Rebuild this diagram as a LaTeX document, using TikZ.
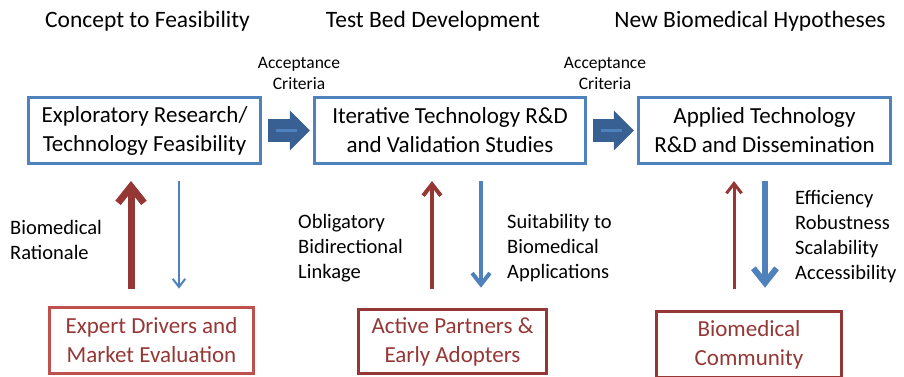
\documentclass[tikz,border=0pt]{standalone}
\usepackage{fontspec}
\setmainfont{Carlito}
\usetikzlibrary{arrows.meta}
\definecolor{techblue}{HTML}{4F81BD}
\definecolor{navyfill}{HTML}{386092}
\definecolor{darkred}{HTML}{953735}
\definecolor{lightred}{HTML}{C0504D}
\tikzset{
	techbox/.style={draw=techblue, line width=2.6pt, inner sep=0pt, minimum height=66.5pt, align=center, font=\fontsize{23}{29}\selectfont},
	userbox/.style={draw=darkred, text=darkred, line width=2.6pt, inner sep=0pt, align=center, font=\fontsize{23}{29}\selectfont},
	heading/.style={anchor=base, font=\fontsize{23.5}{28}\selectfont},
	gate/.style={align=center, font=\fontsize{17.5}{21}\selectfont},
	sidetext/.style={anchor=west, align=left, inner sep=0pt, font=\fontsize{20.5}{25}\selectfont},
	stage/.style={navyfill, line width=23pt, -{Triangle[length=20pt, width=40pt, line width=0pt]}, shorten <=6pt, shorten >=3pt},
	stripe/.style={techblue, line width=3pt},
	feed/.style={line width=#1, -{Straight Barb[length=5pt 1.6, width=7pt 2.7]}}
}
\begin{document}
\begin{tikzpicture}[x=1pt, y=-1pt]
	\useasboundingbox (0,0) rectangle (904,377);
	\node[heading] at (147.5,28) (concept) {Concept to Feasibility};
	\node[heading] at (433,28) (testbed) {Test Bed Development};
	\node[heading] at (750,28) (hypo) {New Biomedical Hypotheses};
	\node[techbox, minimum width=232.5pt] at (144.5,130.5) (explore) {Exploratory Research/\\Technology Feasibility};
	\node[techbox, minimum width=271.5pt] at (450,130.5) (iter) {Iterative Technology R\&D\\and Validation Studies};
	\node[techbox, minimum width=252.5pt] at (764.5,130.5) (applied) {Applied Technology\\R\&D and Dissemination};
	\node[gate] at (299,73.5) (accept1) {Acceptance\\Criteria};
	\node[gate] at (605,73.5) (accept2) {Acceptance\\Criteria};
	\node[userbox, draw=lightred, minimum width=204pt, minimum height=66pt] at (151.5,340.5) (expert) {Expert Drivers and\\Market Evaluation};
	\node[userbox, minimum width=188pt, minimum height=64pt] at (452.5,341.5) (partners) {Active Partners \&\\Early Adopters};
	\node[userbox, minimum width=185pt, minimum height=66pt] at (749,344.5) (community) {Biomedical\\Community};
	\node[sidetext] at (10,239.5) (rationale) {Biomedical\\Rationale};
	\node[sidetext] at (298,248.5) (linkage) {Obligatory\\Bidirectional\\Linkage};
	\node[sidetext] at (507,248) (suit) {Suitability to\\Biomedical\\Applications};
	\node[sidetext] at (795,237) (metrics) {Efficiency\\Robustness\\Scalability\\Accessibility};
	\draw[stage] (explore.east) -- (iter.west);
	\draw[stage] (iter.east) -- (applied.west);
	\draw[stripe] ([xshift=14pt]explore.east) -- ([xshift=35pt]explore.east);
	\draw[stripe] ([xshift=14pt]iter.east) -- ([xshift=35pt]iter.east);
	\coordinate (r1) at (131,0);
	\coordinate (b1) at (179,0);
	\coordinate (r2) at (432,0);
	\coordinate (b2) at (481,0);
	\coordinate (r3) at (734,0);
	\coordinate (b3) at (765,0);
	\draw[feed=7pt, darkred, shorten <=17.5pt, shorten >=16pt] (expert.north -| r1) -- (explore.south -| r1);
	\draw[feed=2pt, techblue, shorten <=16pt, shorten >=17.5pt] (explore.south -| b1) -- (expert.north -| b1);
	\draw[feed=4pt, darkred, shorten <=19.5pt, shorten >=16pt] (partners.north -| r2) -- (iter.south -| r2);
	\draw[feed=4pt, techblue, shorten <=16pt, shorten >=20.5pt] (iter.south -| b2) -- (partners.north -| b2);
	\draw[feed=3pt, darkred, shorten <=21.5pt, shorten >=16pt] (community.north -| r3) -- (applied.south -| r3);
	\draw[feed=6pt, techblue, shorten <=16pt, shorten >=22.5pt] (applied.south -| b3) -- (community.north -| b3);
\end{tikzpicture}
\end{document}
